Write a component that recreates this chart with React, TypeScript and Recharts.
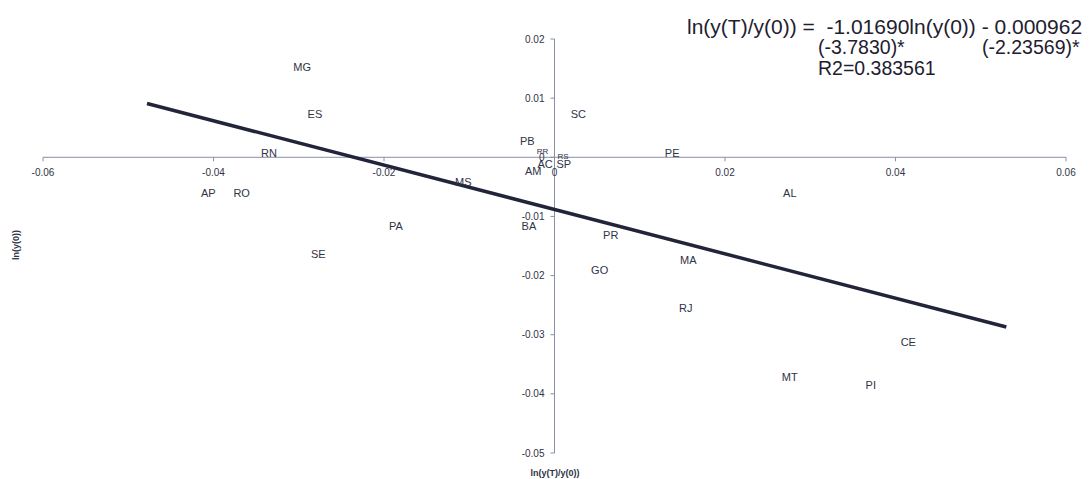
import { ScatterChart, Scatter, XAxis, YAxis, ReferenceLine } from 'recharts';

const STATES = ['MG', 'ES', 'RN', 'AP', 'RO', 'PA', 'SE', 'MS', 'BA', 'AM', 'PB', 'RR', 'AC', 'RS', 'SP', 'SC', 'PE', 'AL', 'PR', 'GO', 'MA', 'RJ', 'CE', 'MT', 'PI'];
const X_VALUES = [-0.0296, -0.0281, -0.0335, -0.0406, -0.0367, -0.0186, -0.0277, -0.0107, -0.003, -0.0025, -0.0032, -0.0014, -0.0011, 0.001, 0.0011, 0.0028, 0.0138, 0.0276, 0.0066, 0.0053, 0.0157, 0.0154, 0.0415, 0.0276, 0.0371];
const Y_VALUES = [0.0152, 0.0074, 0.0007, -0.0061, -0.0061, -0.0117, -0.0164, -0.0041, -0.0117, -0.0024, 0.0027, 0.001, -0.0012, 0.0002, -0.0012, 0.0073, 0.0008, -0.0061, -0.0132, -0.0191, -0.0174, -0.0255, -0.0312, -0.0372, -0.0385];

// fitted line, two ends
const FIT_X = [-0.0478, 0.053];
const FIT_Y = [0.0091, -0.0287];

const X_TICKS = [-0.06, -0.04, -0.02, 0, 0.02, 0.04, 0.06];
const Y_TICKS = [0.02, 0.01, 0, -0.01, -0.02, -0.03, -0.04, -0.05];

const W = 1082;
const H = 471;
const AX_SIZE = 1;
const MARGIN = { top: 31, right: 24, bottom: 25, left: 34 };
const PLOT_W = W - MARGIN.left - MARGIN.right - AX_SIZE;
const PLOT_H = H - MARGIN.top - MARGIN.bottom - AX_SIZE;
const X_MIN = -0.06;
const X_MAX = 0.06;
const Y_MIN = -0.05;
const Y_MAX = 0.02;
const X_ZERO = MARGIN.left + AX_SIZE + ((0 - X_MIN) / (X_MAX - X_MIN)) * PLOT_W;
const Y_ZERO = MARGIN.top + ((Y_MAX - 0) / (Y_MAX - Y_MIN)) * PLOT_H;

const FONT = '"Liberation Sans", Arial, sans-serif';
const INK = '#303345';
const AXIS = '#8a8ea8';
const SMALL = ['RR', 'RS'];

const points = STATES.map((name, i) => ({ name, x: X_VALUES[i], y: Y_VALUES[i] }));
const fit = FIT_X.map((x, i) => ({ x, y: FIT_Y[i] }));

const fmt = (v: number) => (v === 0 ? '0' : String(v));

function XTick(props: any) {
  const { x, payload } = props;
  return (
    <g>
      <line x1={x} x2={x} y1={Y_ZERO} y2={Y_ZERO + 4} stroke={AXIS} />
      <text x={x} y={Y_ZERO + 19} textAnchor='middle' fontSize={10} fill={INK} fontFamily={FONT}>
        {fmt(payload.value)}
      </text>
    </g>
  );
}

function YTick(props: any) {
  const { y, payload } = props;
  return (
    <g>
      <line x1={X_ZERO - 4} x2={X_ZERO} y1={y} y2={y} stroke={AXIS} />
      <text x={X_ZERO - 10} y={y + 3.5} textAnchor='end' fontSize={10} fill={INK} fontFamily={FONT}>
        {fmt(payload.value)}
      </text>
    </g>
  );
}

function StateLabel(props: any) {
  const { cx, cy, payload } = props;
  const small = SMALL.includes(payload.name);
  return (
    <text
      x={cx}
      y={cy}
      dy={small ? 3 : 4}
      textAnchor='middle'
      fontSize={small ? 8 : 11}
      fill={INK}
      fontFamily={FONT}
    >
      {payload.name}
    </text>
  );
}

export default function App() {
  return (
    <div style={{ position: 'relative', width: W, height: H, fontFamily: FONT, color: '#1e2030' }}>
      <ScatterChart width={W} height={H} margin={MARGIN}>
        <XAxis
          type='number'
          dataKey='x'
          domain={[X_MIN, X_MAX]}
          ticks={X_TICKS}
          interval={0}
          height={AX_SIZE}
          axisLine={false}
          tickLine={false}
          tick={XTick}
          allowDataOverflow
        />
        <YAxis
          type='number'
          dataKey='y'
          domain={[Y_MIN, Y_MAX]}
          ticks={Y_TICKS}
          interval={0}
          width={AX_SIZE}
          axisLine={false}
          tickLine={false}
          tick={YTick}
          allowDataOverflow
        />
        <ReferenceLine y={0} stroke={AXIS} strokeWidth={1} />
        <ReferenceLine x={0} stroke={AXIS} strokeWidth={1} />
        <Scatter
          data={fit}
          line={{ stroke: '#22253a', strokeWidth: 3.5 }}
          shape={() => <g />}
          isAnimationActive={false}
        />
        <Scatter data={points} shape={StateLabel} isAnimationActive={false} />
      </ScatterChart>

      <div style={{ position: 'absolute', left: 679, top: 9, fontSize: 21, lineHeight: '20px', whiteSpace: 'pre' }}>
        {'ln(y(T)/y(0)) =  -1.01690ln(y(0)) - 0.000962'}
      </div>
      <div style={{ position: 'absolute', left: 810, top: 29, fontSize: 19.5, lineHeight: '20px', whiteSpace: 'pre' }}>
        (-3.7830)*
      </div>
      <div style={{ position: 'absolute', left: 974, top: 29, fontSize: 19.5, lineHeight: '20px', whiteSpace: 'pre' }}>
        (-2.23569)*
      </div>
      <div style={{ position: 'absolute', left: 810, top: 50, fontSize: 19.5, lineHeight: '20px', whiteSpace: 'pre' }}>
        R2=0.383561
      </div>

      <div
        style={{
          position: 'absolute',
          left: 547,
          top: 465,
          transform: 'translate(-50%, -50%)',
          fontSize: 9,
          lineHeight: '10px',
          fontWeight: 'bold',
          color: INK,
          whiteSpace: 'nowrap',
        }}
      >
        ln(y(T)/y(0))
      </div>
      <div
        style={{
          position: 'absolute',
          left: 8,
          top: 237,
          transform: 'translate(-50%, -50%) rotate(-90deg)',
          fontSize: 9,
          fontWeight: 'bold',
          color: INK,
          whiteSpace: 'nowrap',
        }}
      >
        ln(y(0))
      </div>
    </div>
  );
}
